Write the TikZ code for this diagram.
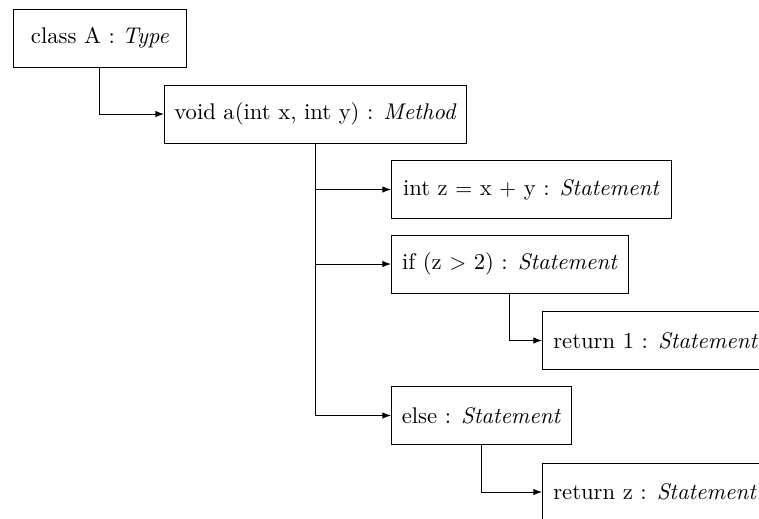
\documentclass[tikz,border=0pt]{standalone}
\usetikzlibrary{arrows.meta}
\begin{document}
\begin{tikzpicture}[x=0.4587pt,y=-0.4587pt,
  astnode/.style={draw, anchor=west, minimum height=26.6pt, inner xsep=3pt, inner ysep=0pt,
    font=\fontsize{10.4pt}{12.5pt}\selectfont},
  leafnode/.style={astnode, inner xsep=5pt},
  link/.style={-{Latex[length=4pt,width=3pt]}, line width=0.45pt}]
  \useasboundingbox (0,0) rectangle (759,518);
  \clip (0,0) rectangle (759,518);
  % syntax tree nodes
  \node[astnode, minimum width=79.4pt]  (cls)  at (13,38)    {class A : \textit{Type}};
  \node[astnode, minimum width=138.5pt] (meth) at (164,114)  {void a(int x, int y) : \textit{Method}};
  \node[astnode, minimum width=128.4pt] (decl) at (391,189.5) {int z $=$ x $+$ y : \textit{Statement}};
  \node[astnode, minimum width=108.7pt] (ifs)  at (391,264)  {if (z $>$ 2) : \textit{Statement}};
  \node[leafnode] (ret1) at (542,340.5) {return 1 : \textit{Statement}\hspace{10pt}};
  \node[astnode, minimum width=82.6pt]  (els)  at (391,415.5) {else : \textit{Statement}};
  \node[leafnode] (retz) at (542,492) {return z : \textit{Statement}\hspace{10pt}};
  % parent-child links
  \draw[link] (cls.south)  |- (meth.west);
  \draw[link] (meth.south) |- (decl.west);
  \draw[link] (meth.south) |- (ifs.west);
  \draw[link] (meth.south) |- (els.west);
  \draw[link] (ifs.south)  |- (ret1.west);
  \draw[link] (els.south)  |- (retz.west);
\end{tikzpicture}
\end{document}
